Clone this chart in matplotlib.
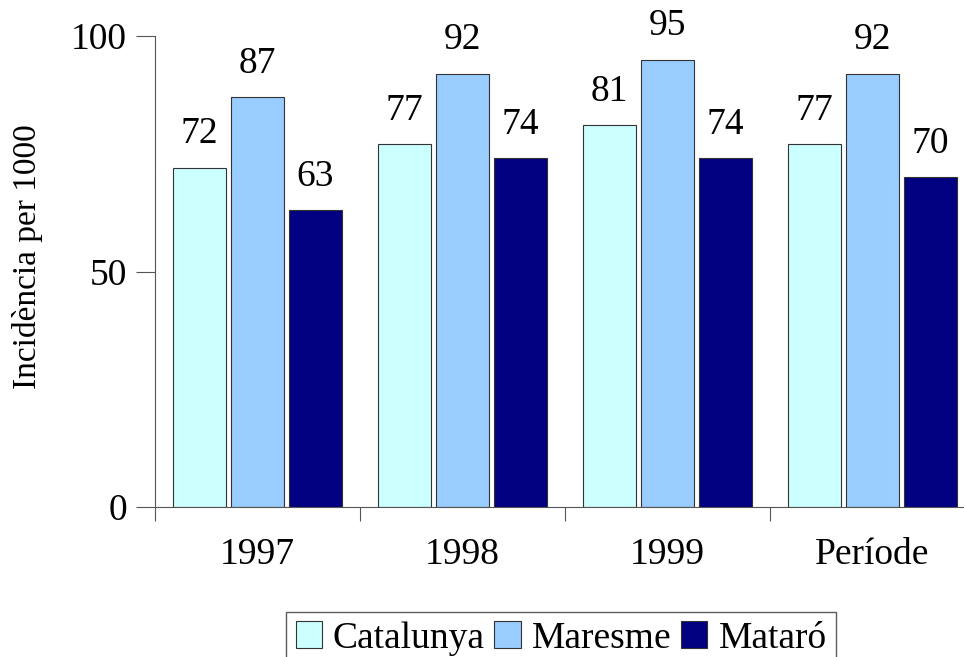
import numpy as np
import matplotlib.pyplot as plt

plt.rcParams['font.family'] = ['Liberation Serif', 'DejaVu Serif']

categories = ['1997', '1998', '1999', 'Període']
series_names = ['Catalunya', 'Maresme', 'Mataró']
catalunya = [72, 77, 81, 77]
maresme = [87, 92, 95, 92]
mataro = [63, 74, 74, 70]
colors = ['#CCFFFF', '#99CCFF', '#000080']

fs = 27

fig = plt.figure(figsize=(9.64, 6.57), dpi=100)
ax = fig.add_axes([155 / 964, 150 / 657, 820 / 964, 471 / 657])

x = np.arange(len(categories)) + 0.5
width = 0.26
step = 0.283
for i, (name, vals) in enumerate(zip(series_names, [catalunya, maresme, mataro])):
    pos = x + (i - 1) * step
    ax.bar(pos, vals, width, color=colors[i], edgecolor='#333333',
           linewidth=0.8, label=name)
    for xp, v in zip(pos, vals):
        ax.annotate(str(v), (xp, v), xytext=(0, 12), textcoords='offset points',
                    ha='center', va='bottom', fontsize=fs)

ax.set_xlim(0, len(categories))
ax.set_ylim(0, 100)
ax.set_yticks([0, 50, 100])
ax.set_xticks(np.arange(len(categories) + 1))
ax.set_xticklabels([])
ax.set_xticks(x, minor=True)
ax.set_xticklabels(categories, minor=True)
ax.tick_params(axis='x', which='minor', length=0, pad=22, labelsize=fs)
ax.tick_params(axis='x', which='major', direction='out', length=10, color='#555555')
ax.tick_params(axis='y', direction='out', length=14, color='#555555', labelsize=fs, pad=6)
ax.set_ylabel('Incidència per 1000', fontsize=24, va='center')
ax.yaxis.set_label_coords(-0.156, 0.531)

for s in ['top', 'right']:
    ax.spines[s].set_visible(False)
for s in ['left', 'bottom']:
    ax.spines[s].set_color('#555555')

leg = fig.legend(loc='lower center', bbox_to_anchor=(561 / 964, -0.012), ncol=3,
                 fontsize=fs, frameon=True, fancybox=False, edgecolor='#333333',
                 handlelength=0.7, handleheight=0.7, handletextpad=0.3,
                 columnspacing=0.25, borderpad=0.25, borderaxespad=0)
leg.get_frame().set_linewidth(1.0)

plt.savefig('out.png', dpi=100)
